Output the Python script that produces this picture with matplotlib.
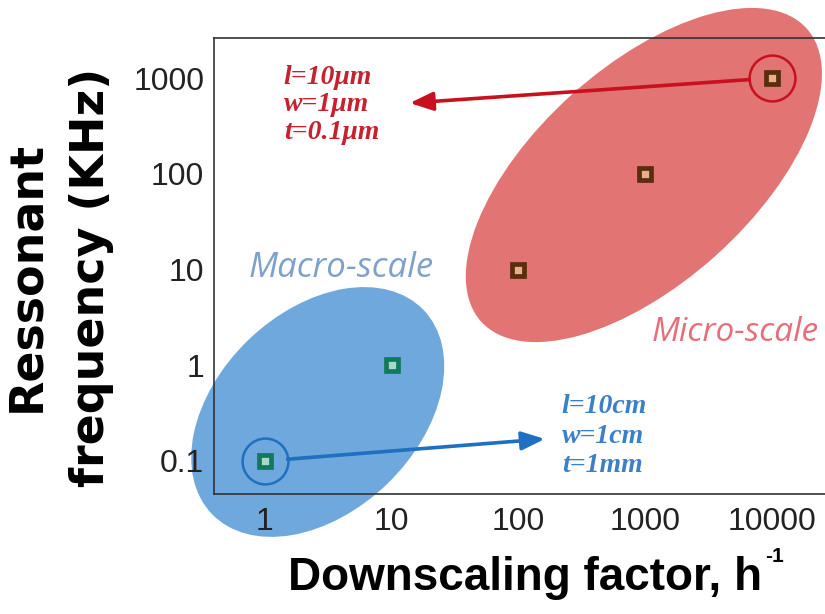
import matplotlib
matplotlib.use("Agg")
import matplotlib.pyplot as plt
import matplotlib.transforms as mtransforms
from matplotlib.patches import Ellipse

# data
macro_x = [1, 10]
macro_y = [0.1, 1]
micro_x = [100, 1000, 10000]
micro_y = [10, 100, 1000]

xticks = [1, 10, 100, 1000, 10000]
xtick_labels = ["1", "10", "100", "1000", "10000"]
yticks = [0.1, 1, 10, 100, 1000]
ytick_labels = ["0.1", "1", "10", "100", "1000"]

macro_info = ["l=10cm", "w=1cm", "t=1mm"]
micro_info = ["l=10\u03bcm", "w=1\u03bcm", "t=0.1\u03bcm"]

plt.rcParams['font.family'] = ['Liberation Sans', 'DejaVu Sans']

fig = plt.figure(figsize=(8.25, 6.14), dpi=100)
ax = fig.add_axes([0.2594, 0.1954, 0.7648, 0.7427])
ax.set_xscale('log')
ax.set_yscale('log')
ax.set_xlim(10 ** -0.40, 10 ** 4.576)
ax.set_ylim(10 ** -1.345, 10 ** 3.418)

# ellipses (centre in data, size in inches)
def blob(cx, cy, a, b, angle, color):
    tr = fig.dpi_scale_trans + mtransforms.ScaledTranslation(cx, cy, ax.transData)
    e = Ellipse((0, 0), 2 * a, 2 * b, angle=angle, transform=tr,
                facecolor=color, edgecolor='none', clip_on=False, zorder=1)
    ax.add_patch(e)

blob(10 ** 0.418, 10 ** -0.488, 1.47, 1.00, 44, '#6fa8dc')
blob(10 ** 2.99, 10 ** 1.987, 2.19, 1.08, 42, '#e27474')

# points
ax.plot(macro_x, macro_y, 's', ms=9, mew=3.4, mec='#127a5c', mfc='#a8d8c8',
        ls='none', zorder=4)
ax.plot(micro_x, micro_y, 's', ms=9, mew=3.4, mec='#5a2d0c', mfc='#e8b08a',
        ls='none', zorder=4)

# highlight circles
ax.plot(macro_x[0], macro_y[0], 'o', ms=33, mfc='none', mec='#1f70c0', mew=1.8,
        zorder=5)
ax.plot(micro_x[-1], micro_y[-1], 'o', ms=33, mfc='none', mec='#c8101e', mew=1.8,
        zorder=5)

# arrows
ax.annotate('', xy=(10 ** 2.209, 10 ** -0.77), xytext=(macro_x[0], macro_y[0]),
            arrowprops=dict(arrowstyle='-|>,head_length=0.7,head_width=0.28',
                            color='#1f70c0', lw=2.6, shrinkA=16.5, shrinkB=0,
                            mutation_scale=20), zorder=5)
ax.annotate('', xy=(10 ** 1.144, 10 ** 2.739), xytext=(micro_x[-1], micro_y[-1]),
            arrowprops=dict(arrowstyle='-|>,head_length=0.7,head_width=0.28',
                            color='#c8101e', lw=2.6, shrinkA=16.5, shrinkB=0,
                            mutation_scale=20), zorder=5)

# parameter text
for i, s in enumerate(micro_info):
    ax.text(10 ** 0.15, 10 ** (3.01 - 0.29 * i), s, color='#c8202c',
            fontsize=20, fontweight='bold', fontstyle='italic',
            family='Liberation Serif', ha='left', va='center', zorder=6)
for i, s in enumerate(macro_info):
    ax.text(10 ** 2.343, 10 ** (-0.436 - 0.303 * i), s, color='#3a80c8',
            fontsize=20, fontweight='bold', fontstyle='italic',
            family='Liberation Serif', ha='left', va='center', zorder=6)

ax.text(10 ** 0.60, 10 ** 1.016, "Macro-scale", color='#7da0cd', fontsize=25,
        fontstyle='italic', family='Open Sans', ha='center', va='center')
ax.text(10 ** 3.708, 10 ** 0.347, "Micro-scale", color='#e66e78', fontsize=24,
        fontstyle='italic', family='Open Sans', ha='center', va='center')

ax.set_xticks(xticks)
ax.set_xticklabels(xtick_labels)
ax.set_yticks(yticks)
ax.set_yticklabels(ytick_labels)
ax.minorticks_off()
ax.tick_params(axis='both', length=0, labelsize=23, colors='#222222')
ax.tick_params(axis='x', pad=9)
ax.tick_params(axis='y', pad=7)

for sp in ax.spines.values():
    sp.set_color('#333333')
    sp.set_linewidth(1.2)
    sp.set_zorder(7)

fig.text(762 / 825, 1 - 578 / 614, "Downscaling factor, h",
         fontsize=33, fontweight='bold', ha='right', va='center')
fig.text(765 / 825, 1 - 557 / 614, "-1",
         fontsize=15, fontweight='bold', ha='left', va='center')
fig.text(59 / 825, 1 - 277 / 614, "Ressonant\nfrequency (KHz)", rotation=90,
         fontsize=33, fontweight='bold', family='DejaVu Sans',
         ha='center', va='center', multialignment='center', linespacing=1.55)

fig.savefig("out.png", dpi=100)
